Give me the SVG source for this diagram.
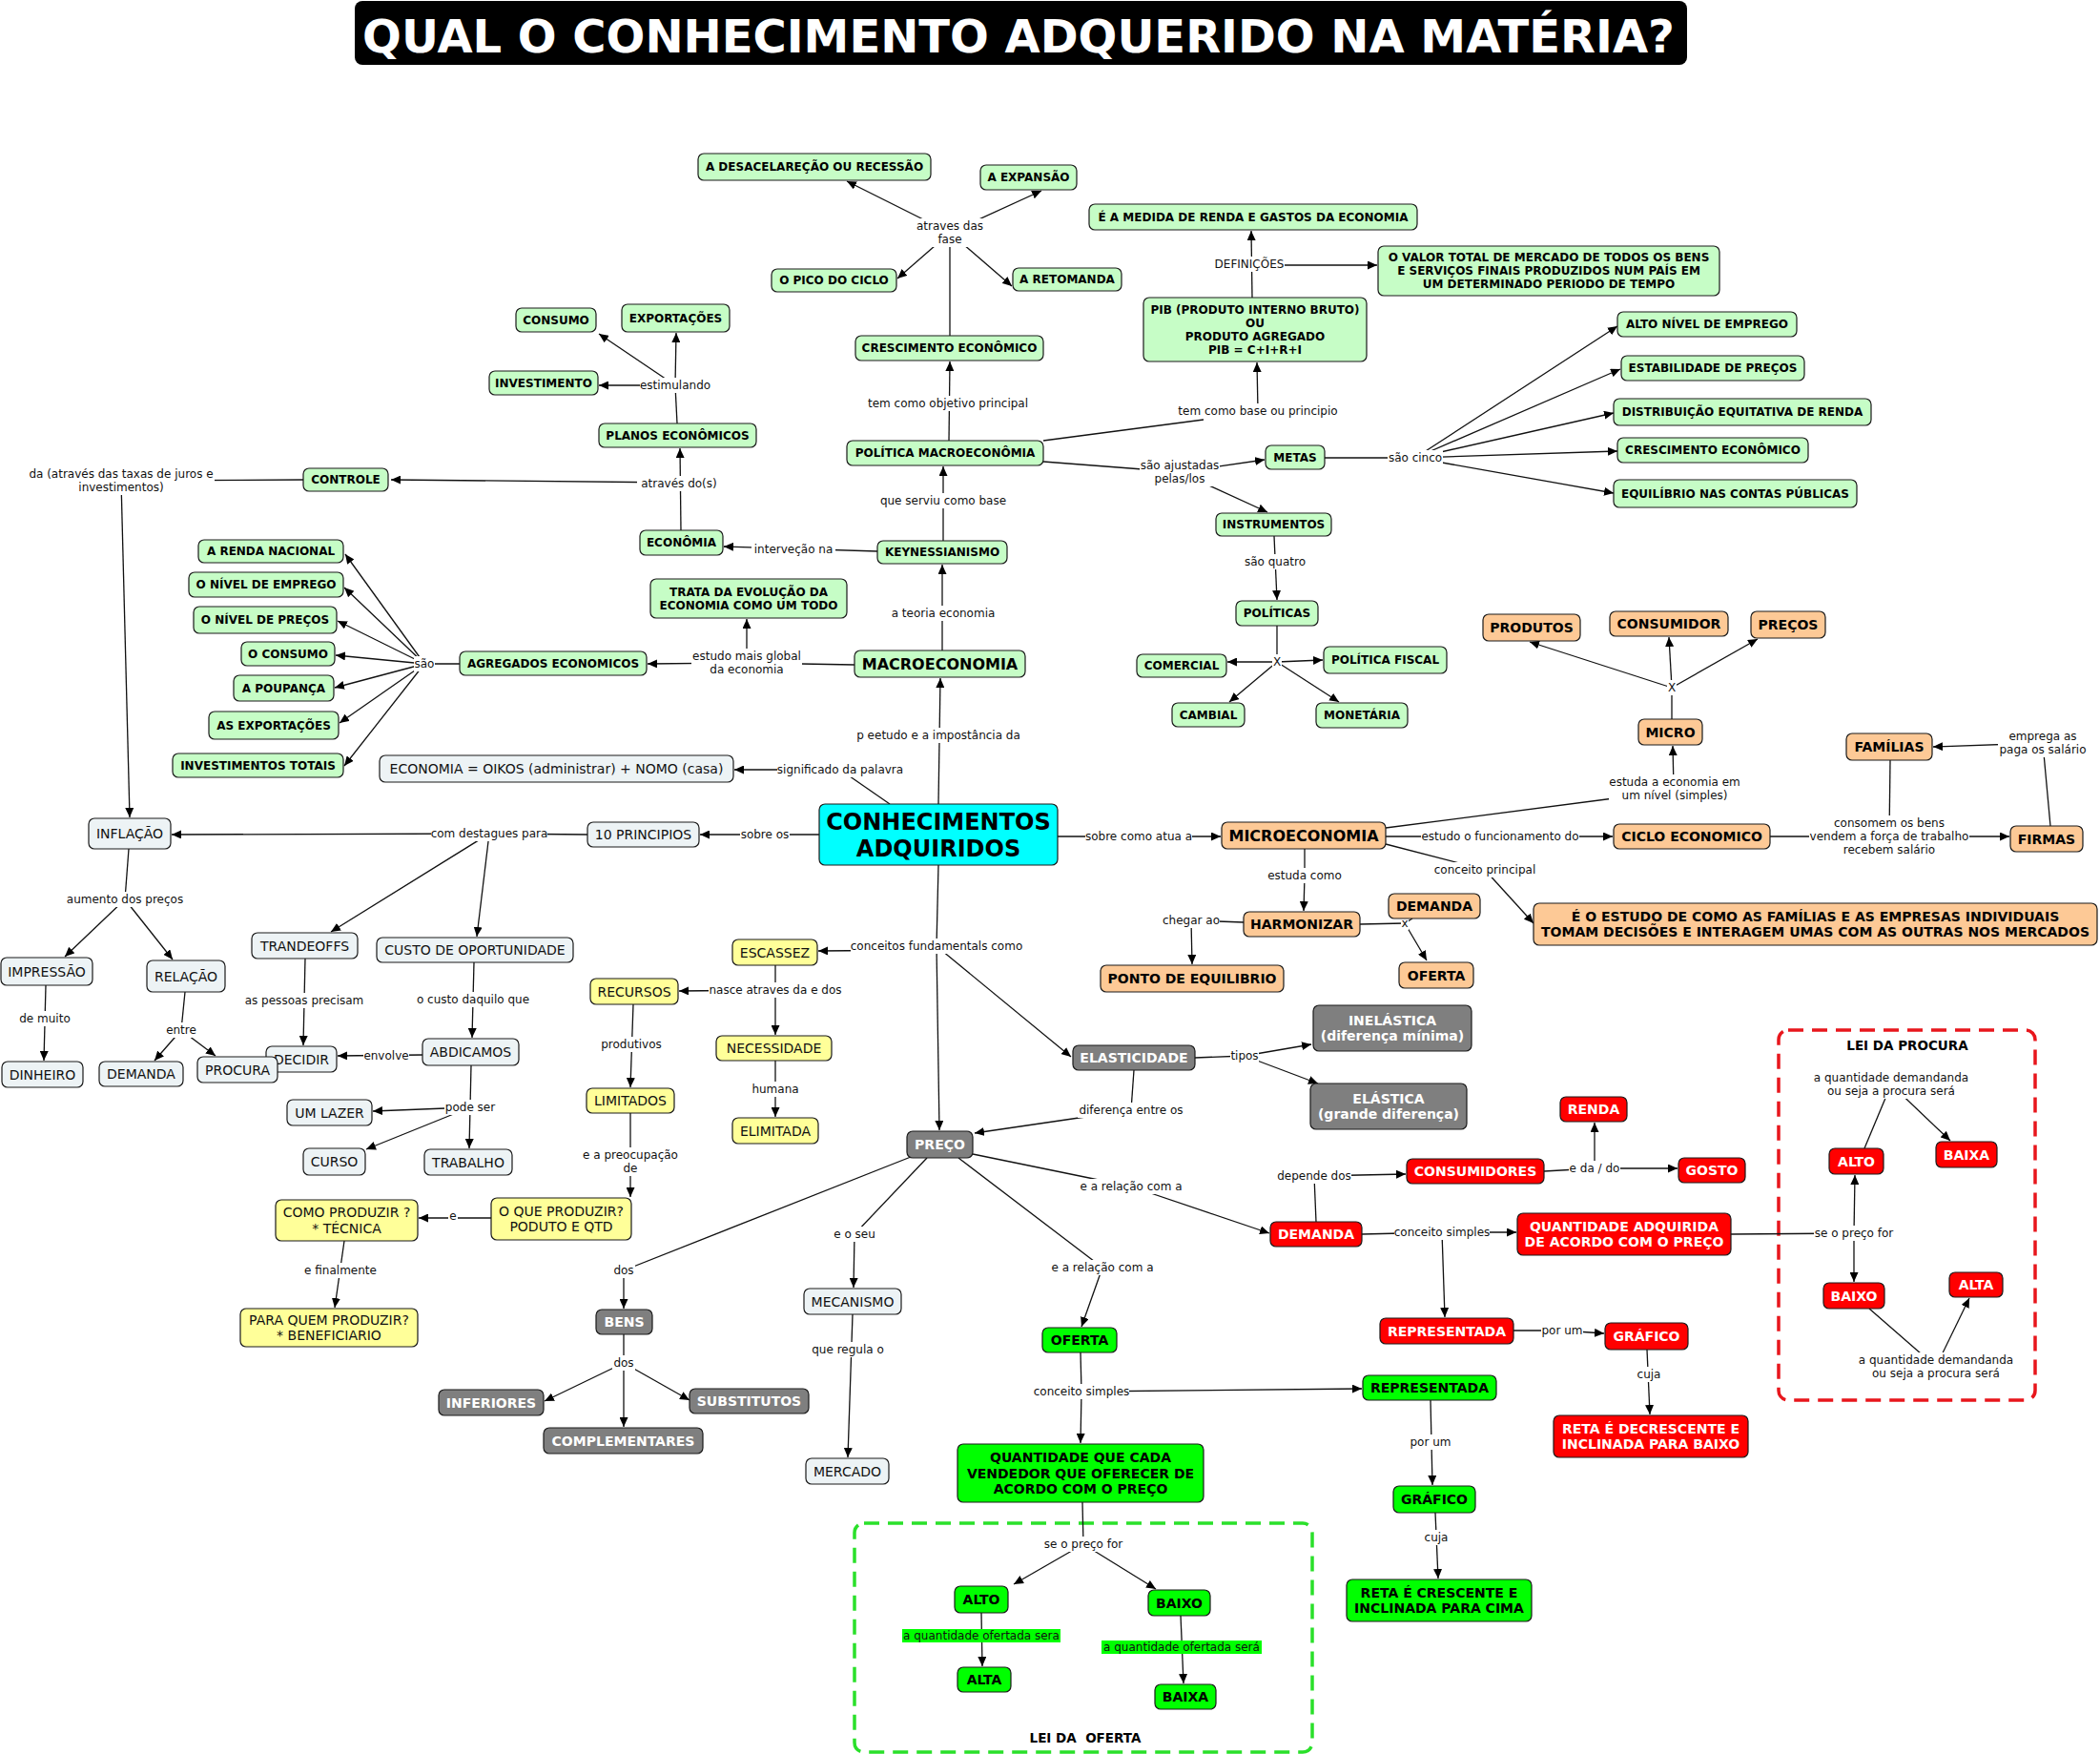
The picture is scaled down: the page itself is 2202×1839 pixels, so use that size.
<svg xmlns="http://www.w3.org/2000/svg" width="2202" height="1839" viewBox="0 0 2202 1839">
<defs>
<marker id="ah" viewBox="0 0 10 9" refX="10" refY="4.5" markerWidth="10" markerHeight="9" markerUnits="userSpaceOnUse" orient="auto"><path d="M0,0 L10,4.5 L0,9 z" fill="#000"/></marker>
<style>
.c{fill:none;stroke:#111;stroke-width:1.3}
.ca{fill:none;stroke:#111;stroke-width:1.3;marker-end:url(#ah)}
.lb rect{fill:#fff}
.lb text{font-family:"DejaVu Sans",sans-serif;font-size:12px;fill:#111;text-anchor:middle}
.n{stroke:#1a1a1a;stroke-width:1.2;rx:6px;ry:6px}
.fg{fill:#c6fdc6}.fo{fill:#fdc996}.fy{fill:#ffff99}.fb{fill:#edf3f5}.fgr{fill:#7f7f7f}.fr{fill:#ff0000}.fG{fill:#00ff00}.fc{fill:#00ffff}
.t{font-family:"DejaVu Sans",sans-serif;text-anchor:middle}
.b12{font-size:12px;font-weight:bold;fill:#000}
.b14{font-size:14px;font-weight:bold;fill:#000}
.w14{font-size:14px;font-weight:bold;fill:#fff}
.r14{font-size:14px;fill:#111}
.b16{font-size:16px;font-weight:bold;fill:#000}
.b24{font-size:24px;font-weight:bold;fill:#000}
.box{fill:none;stroke-width:3.5;stroke-dasharray:16 9;rx:10px;ry:10px}
</style>
</defs>
<rect width="2202" height="1839" fill="#fff"/>

<g id="title">
<rect x="372" y="1" width="1397" height="67" rx="8" fill="#000"/>
<text class="t" x="1068" y="55" font-size="48" font-weight="bold" fill="#fff">QUAL O CONHECIMENTO ADQUERIDO NA MATÉRIA?</text>
</g>

<g id="lei-procura-box">
<rect class="box" x="1865" y="1080" width="269" height="388" stroke="#e8161c"/>
<text class="t" x="2000" y="1101" font-size="13.5" font-weight="bold">LEI DA PROCURA</text>
</g>
<g id="lei-oferta-box">
<rect class="box" x="896" y="1597" width="480" height="240" stroke="#2ae02a"/>
<text class="t" x="1138" y="1827" font-size="13.5" font-weight="bold" xml:space="preserve">LEI DA  OFERTA</text>
</g>

<g id="connectors">
<path class="c" d="M996 352 L996 244"/>
<path class="ca" d="M996 244 L888 190"/>
<path class="ca" d="M996 244 L1092 200"/>
<path class="ca" d="M996 244 L941 292"/>
<path class="ca" d="M996 244 L1061 300"/>
<path class="c" d="M710 444 L708 404"/>
<path class="ca" d="M708 404 L709 349"/>
<path class="ca" d="M708 404 L628 350"/>
<path class="ca" d="M708 404 L628 404"/>
<path class="ca" d="M995 462 L996 379"/>
<path class="ca" d="M989 567 L989 489"/>
<path class="ca" d="M920 578 L759 573"/>
<path class="ca" d="M714 556 L713 470"/>
<path class="ca" d="M712 506 L410 503"/>
<path class="c" d="M318 503 L126 504"/>
<path class="ca" d="M127 504 L136 857"/>
<path class="c" d="M482 696 L445 696"/>
<path class="ca" d="M445 696 L362 581"/>
<path class="ca" d="M445 696 L361 616"/>
<path class="ca" d="M445 696 L354 651"/>
<path class="ca" d="M445 696 L352 687"/>
<path class="ca" d="M445 696 L351 721"/>
<path class="ca" d="M445 696 L356 758"/>
<path class="ca" d="M445 696 L361 803"/>
<path class="c" d="M896 697 L783 695"/>
<path class="ca" d="M783 695 L679 696"/>
<path class="ca" d="M783 695 L783 649"/>
<path class="ca" d="M988 682 L988 592"/>
<path class="ca" d="M984 843 L986 711"/>
<path class="c" d="M933 843 L881 807"/>
<path class="ca" d="M881 807 L770 807"/>
<path class="ca" d="M859 875 L734 875"/>
<path class="c" d="M616 875 L513 874"/>
<path class="ca" d="M513 874 L180 875"/>
<path class="ca" d="M513 874 L347 977"/>
<path class="ca" d="M513 874 L500 982"/>
<path class="c" d="M135 890 L131 943"/>
<path class="ca" d="M131 943 L68 1003"/>
<path class="ca" d="M131 943 L181 1006"/>
<path class="ca" d="M48 1033 L46 1112"/>
<path class="c" d="M194 1040 L190 1080"/>
<path class="ca" d="M190 1080 L162 1112"/>
<path class="ca" d="M190 1080 L226 1107"/>
<path class="ca" d="M320 1005 L318 1096"/>
<path class="ca" d="M497 1009 L495 1088"/>
<path class="ca" d="M443 1106 L354 1107"/>
<path class="c" d="M494 1117 L493 1161"/>
<path class="ca" d="M493 1161 L391 1165"/>
<path class="ca" d="M493 1161 L384 1205"/>
<path class="ca" d="M493 1161 L492 1204"/>
<path class="ca" d="M664 1053 L661 1140"/>
<path class="ca" d="M661 1167 L661 1255"/>
<path class="ca" d="M515 1277 L439 1277"/>
<path class="ca" d="M361 1301 L351 1371"/>
<path class="c" d="M955 1213 L654 1332"/>
<path class="ca" d="M654 1332 L654 1372"/>
<path class="c" d="M654 1399 L654 1429"/>
<path class="ca" d="M654 1429 L571 1469"/>
<path class="ca" d="M654 1429 L654 1496"/>
<path class="ca" d="M654 1429 L723 1468"/>
<path class="c" d="M984 907 L982 992"/>
<path class="ca" d="M982 996 L858 997"/>
<path class="ca" d="M982 992 L985 1185"/>
<path class="ca" d="M982 992 L1123 1108"/>
<path class="ca" d="M813 1012 L813 1085"/>
<path class="ca" d="M813 1038 L712 1039"/>
<path class="ca" d="M813 1112 L813 1171"/>
<path class="c" d="M1253 1109 L1305 1107"/>
<path class="ca" d="M1305 1107 L1375 1095"/>
<path class="ca" d="M1305 1107 L1382 1136"/>
<path class="c" d="M1189 1122 L1186 1164"/>
<path class="ca" d="M1186 1164 L1022 1188"/>
<path class="c" d="M1020 1210 L1186 1244"/>
<path class="ca" d="M1186 1244 L1331 1293"/>
<path class="c" d="M1380 1281 L1378 1233"/>
<path class="ca" d="M1378 1233 L1474 1231"/>
<path class="c" d="M972 1214 L896 1294"/>
<path class="ca" d="M896 1294 L895 1350"/>
<path class="c" d="M1005 1214 L1156 1329"/>
<path class="ca" d="M1156 1329 L1134 1391"/>
<path class="ca" d="M894 1378 L889 1528"/>
<path class="c" d="M1133 1418 L1134 1459"/>
<path class="ca" d="M1134 1459 L1133 1513"/>
<path class="ca" d="M1134 1459 L1428 1456"/>
<path class="c" d="M1135 1575 L1136 1619"/>
<path class="ca" d="M1136 1619 L1063 1661"/>
<path class="ca" d="M1136 1619 L1212 1666"/>
<path class="ca" d="M1029 1691 L1030 1747"/>
<path class="ca" d="M1238 1694 L1241 1765"/>
<path class="ca" d="M1500 1468 L1502 1557"/>
<path class="ca" d="M1505 1586 L1508 1655"/>
<path class="ca" d="M1313 312 L1312 242"/>
<path class="ca" d="M1310 278 L1444 278"/>
<path class="c" d="M1094 462 L1262 440"/>
<path class="ca" d="M1319 431 L1318 380"/>
<path class="c" d="M1094 484 L1237 495"/>
<path class="ca" d="M1237 495 L1326 482"/>
<path class="ca" d="M1237 495 L1329 537"/>
<path class="c" d="M1389 480 L1484 480"/>
<path class="ca" d="M1484 480 L1696 342"/>
<path class="ca" d="M1484 480 L1699 387"/>
<path class="ca" d="M1484 480 L1692 433"/>
<path class="ca" d="M1484 480 L1696 473"/>
<path class="ca" d="M1484 480 L1692 517"/>
<path class="ca" d="M1336 562 L1339 629"/>
<path class="c" d="M1339 656 L1339 694"/>
<path class="ca" d="M1339 694 L1287 694"/>
<path class="ca" d="M1339 694 L1387 692"/>
<path class="ca" d="M1339 694 L1289 736"/>
<path class="ca" d="M1339 694 L1404 736"/>
<path class="ca" d="M1109 877 L1280 877"/>
<path class="c" d="M1753 754 L1753 721"/>
<path class="ca" d="M1753 721 L1604 673"/>
<path class="ca" d="M1753 721 L1750 668"/>
<path class="ca" d="M1753 721 L1843 670"/>
<path class="c" d="M1453 868 L1700 836"/>
<path class="ca" d="M1755 827 L1754 782"/>
<path class="c" d="M2150 866 L2142 779"/>
<path class="ca" d="M2142 779 L2027 783"/>
<path class="ca" d="M1453 877 L1691 877"/>
<path class="c" d="M1856 877 L1981 877"/>
<path class="ca" d="M1981 877 L2107 877"/>
<path class="c" d="M1982 797 L1981 877"/>
<path class="c" d="M1453 885 L1557 912"/>
<path class="ca" d="M1557 912 L1608 968"/>
<path class="c" d="M1368 890 L1368 918"/>
<path class="ca" d="M1368 918 L1367 955"/>
<path class="c" d="M1304 967 L1249 965"/>
<path class="ca" d="M1249 965 L1250 1011"/>
<path class="c" d="M1426 969 L1473 968"/>
<path class="c" d="M1473 968 L1481 963"/>
<path class="ca" d="M1473 968 L1496 1007"/>
<path class="c" d="M1619 1228 L1672 1225"/>
<path class="ca" d="M1672 1225 L1759 1225"/>
<path class="ca" d="M1672 1225 L1672 1177"/>
<path class="c" d="M1428 1294 L1512 1292"/>
<path class="ca" d="M1512 1292 L1590 1292"/>
<path class="ca" d="M1512 1292 L1515 1381"/>
<path class="c" d="M1587 1395 L1638 1395"/>
<path class="ca" d="M1638 1395 L1682 1398"/>
<path class="ca" d="M1727 1415 L1730 1483"/>
<path class="c" d="M1815 1294 L1944 1293"/>
<path class="ca" d="M1944 1293 L1945 1232"/>
<path class="ca" d="M1944 1293 L1944 1344"/>
<path class="c" d="M1955 1204 L1983 1137"/>
<path class="ca" d="M1983 1137 L2045 1196"/>
<path class="c" d="M1960 1372 L2030 1433"/>
<path class="ca" d="M2030 1433 L2065 1361"/>

<g class="lb">
<rect x="958" y="229" width="76" height="30"/><text x="996" y="241.3">atraves das<tspan x="996" dy="14">fase</tspan></text>
<rect x="671" y="396" width="74" height="16"/><text x="708" y="408.3">estimulando</text>
<rect x="903" y="415" width="181" height="16"/><text x="994" y="427.3">tem como objetivo principal</text>
<rect x="922" y="517" width="134" height="16"/><text x="989" y="529.3">que serviu como base</text>
<rect x="788" y="568" width="88" height="16"/><text x="832" y="580.3">interveção na</text>
<rect x="668" y="499" width="88" height="16"/><text x="712" y="511.3">através do(s)</text>
<rect x="29" y="489" width="196" height="30"/><text x="127" y="501.3">da (através das taxas de juros e<tspan x="127" dy="14">investimentos)</tspan></text>
<rect x="434" y="688" width="22" height="16"/><text x="445" y="700.3">são</text>
<rect x="725" y="680" width="116" height="30"/><text x="783" y="692.3">estudo mais global<tspan x="783" dy="14">da economia</tspan></text>
<rect x="934" y="635" width="110" height="16"/><text x="989" y="647.3">a teoria economia</text>
<rect x="898" y="763" width="172" height="16"/><text x="984" y="775.3">p eetudo e a impostância da</text>
<rect x="815" y="799" width="132" height="16"/><text x="881" y="811.3">significado da palavra</text>
<rect x="776" y="867" width="52" height="16"/><text x="802" y="879.3">sobre os</text>
<rect x="452" y="866" width="122" height="16"/><text x="513" y="878.3">com destagues para</text>
<rect x="70" y="935" width="122" height="16"/><text x="131" y="947.3">aumento dos preços</text>
<rect x="20" y="1060" width="54" height="16"/><text x="47" y="1072.3">de muito</text>
<rect x="174" y="1072" width="32" height="16"/><text x="190" y="1084.3">entre</text>
<rect x="256" y="1041" width="126" height="16"/><text x="319" y="1053.3">as pessoas precisam</text>
<rect x="436" y="1040" width="120" height="16"/><text x="496" y="1052.3">o custo daquilo que</text>
<rect x="381" y="1099" width="48" height="16"/><text x="405" y="1111.3">envolve</text>
<rect x="466" y="1153" width="54" height="16"/><text x="493" y="1165.3">pode ser</text>
<rect x="630" y="1087" width="64" height="16"/><text x="662" y="1099.3">produtivos</text>
<rect x="611" y="1203" width="100" height="30"/><text x="661" y="1215.3">e a preocupação<tspan x="661" dy="14">de</tspan></text>
<rect x="470" y="1267" width="10" height="16"/><text x="475" y="1279.3">e</text>
<rect x="319" y="1324" width="76" height="16"/><text x="357" y="1336.3">e finalmente</text>
<rect x="642" y="1324" width="24" height="16"/><text x="654" y="1336.3">dos</text>
<rect x="642" y="1421" width="24" height="16"/><text x="654" y="1433.3">dos</text>
<rect x="892" y="984" width="180" height="16"/><text x="982" y="996.3">conceitos fundamentals como</text>
<rect x="743" y="1030" width="140" height="16"/><text x="813" y="1042.3">nasce atraves da e dos</text>
<rect x="789" y="1134" width="48" height="16"/><text x="813" y="1146.3">humana</text>
<rect x="1290" y="1099" width="30" height="16"/><text x="1305" y="1111.3">tipos</text>
<rect x="1130" y="1156" width="112" height="16"/><text x="1186" y="1168.3">diferença entre os</text>
<rect x="1132" y="1236" width="108" height="16"/><text x="1186" y="1248.3">e a relação com a</text>
<rect x="1339" y="1225" width="78" height="16"/><text x="1378" y="1237.3">depende dos</text>
<rect x="874" y="1286" width="44" height="16"/><text x="896" y="1298.3">e o seu</text>
<rect x="1102" y="1321" width="108" height="16"/><text x="1156" y="1333.3">e a relação com a</text>
<rect x="851" y="1407" width="76" height="16"/><text x="889" y="1419.3">que regula o</text>
<rect x="1084" y="1451" width="100" height="16"/><text x="1134" y="1463.3">conceito simples</text>
<rect x="1094" y="1611" width="84" height="16"/><text x="1136" y="1623.3">se o preço for</text>
<rect x="946" y="1708" width="166" height="14" style="fill:#00ff00"/><text x="1029" y="1719.3">a quantidade ofertada sera</text>
<rect x="1155" y="1720" width="168" height="14" style="fill:#00ff00"/><text x="1239" y="1731.3">a quantidade ofertada será</text>
<rect x="1273" y="269" width="74" height="16"/><text x="1310" y="281.3">DEFINIÇÕES</text>
<rect x="1234" y="423" width="170" height="16"/><text x="1319" y="435.3">tem como base ou principio</text>
<rect x="1455" y="472" width="58" height="16"/><text x="1484" y="484.3">são cinco</text>
<rect x="1195" y="480" width="84" height="30"/><text x="1237" y="492.3">são ajustadas<tspan x="1237" dy="14">pelas/los</tspan></text>
<rect x="1305" y="581" width="64" height="16"/><text x="1337" y="593.3">são quatro</text>
<rect x="1334" y="686" width="10" height="16"/><text x="1339" y="698.3">X</text>
<rect x="1138" y="869" width="112" height="16"/><text x="1194" y="881.3">sobre como atua a</text>
<rect x="1748" y="713" width="10" height="16"/><text x="1753" y="725.3">X</text>
<rect x="1687" y="812" width="138" height="30"/><text x="1756" y="824.3">estuda a economia em<tspan x="1756" dy="14">um nível (simples)</tspan></text>
<rect x="2095" y="764" width="94" height="30"/><text x="2142" y="776.3">emprega as<tspan x="2142" dy="14">paga os salário</tspan></text>
<rect x="1490" y="869" width="166" height="16"/><text x="1573" y="881.3">estudo o funcionamento do</text>
<rect x="1897" y="855" width="168" height="44"/><text x="1981" y="867.3">consomem os bens<tspan x="1981" dy="14">vendem a força de trabalho</tspan><tspan x="1981" dy="14">recebem salário</tspan></text>
<rect x="1504" y="904" width="106" height="16"/><text x="1557" y="916.3">conceito principal</text>
<rect x="1332" y="910" width="72" height="16"/><text x="1368" y="922.3">estuda como</text>
<rect x="1219" y="957" width="60" height="16"/><text x="1249" y="969.3">chegar ao</text>
<rect x="1469" y="961" width="8" height="14"/><text x="1473" y="972.3">x</text>
<rect x="1645" y="1217" width="54" height="16"/><text x="1672" y="1229.3">e da / do</text>
<rect x="1462" y="1284" width="100" height="16"/><text x="1512" y="1296.3">conceito simples</text>
<rect x="1616" y="1387" width="44" height="16"/><text x="1638" y="1399.3">por um</text>
<rect x="1715" y="1433" width="28" height="16"/><text x="1729" y="1445.3">cuja</text>
<rect x="1902" y="1122" width="162" height="30"/><text x="1983" y="1134.3">a quantidade demandanda<tspan x="1983" dy="14">ou seja a procura será</tspan></text>
<rect x="1902" y="1285" width="84" height="16"/><text x="1944" y="1297.3">se o preço for</text>
<rect x="1949" y="1418" width="162" height="30"/><text x="2030" y="1430.3">a quantidade demandanda<tspan x="2030" dy="14">ou seja a procura será</tspan></text>
<rect x="1478" y="1504" width="44" height="16"/><text x="1500" y="1516.3">por um</text>
<rect x="1492" y="1604" width="28" height="16"/><text x="1506" y="1616.3">cuja</text>
</g>
</g>

<g id="nodes">
<g id="n-desacel"><rect class="n fg" x="732" y="161" width="244" height="28"/><text class="t b12" x="854" y="179.3">A DESACELAREÇÃO OU RECESSÃO</text></g>
<g id="n-expansao"><rect class="n fg" x="1028" y="173" width="101" height="26"/><text class="t b12" x="1078.5" y="190.3">A EXPANSÃO</text></g>
<g id="n-pico"><rect class="n fg" x="809" y="282" width="131" height="24"/><text class="t b12" x="874.5" y="298.3">O PICO DO CICLO</text></g>
<g id="n-retomanda"><rect class="n fg" x="1062" y="281" width="114" height="24"/><text class="t b12" x="1119" y="297.3">A RETOMANDA</text></g>
<g id="n-cresc1"><rect class="n fg" x="897" y="352" width="197" height="26"/><text class="t b12" x="995.5" y="369.3">CRESCIMENTO ECONÔMICO</text></g>
<g id="n-consumo"><rect class="n fg" x="541" y="323" width="84" height="25"/><text class="t b12" x="583" y="339.8">CONSUMO</text></g>
<g id="n-exportacoes"><rect class="n fg" x="652" y="319" width="113" height="29"/><text class="t b12" x="708.5" y="337.8">EXPORTAÇÕES</text></g>
<g id="n-investimento"><rect class="n fg" x="513" y="389" width="114" height="25"/><text class="t b12" x="570" y="405.8">INVESTIMENTO</text></g>
<g id="n-planos"><rect class="n fg" x="628" y="444" width="165" height="25"/><text class="t b12" x="710.5" y="460.8">PLANOS ECONÔMICOS</text></g>
<g id="n-politica"><rect class="n fg" x="888" y="462" width="206" height="26"/><text class="t b12" x="991" y="479.3">POLÍTICA MACROECONÔMIA</text></g>
<g id="n-keynes"><rect class="n fg" x="920" y="567" width="136" height="24"/><text class="t b12" x="988" y="583.3">KEYNESSIANISMO</text></g>
<g id="n-economia"><rect class="n fg" x="671" y="556" width="87" height="26"/><text class="t b12" x="714.5" y="573.3">ECONÔMIA</text></g>
<g id="n-controle"><rect class="n fg" x="318" y="491" width="89" height="24"/><text class="t b12" x="362.5" y="507.3">CONTROLE</text></g>
<g id="n-renda-nac"><rect class="n fg" x="208" y="566" width="152" height="24"/><text class="t b12" x="284" y="582.3">A RENDA NACIONAL</text></g>
<g id="n-nivel-emp"><rect class="n fg" x="198" y="600" width="162" height="26"/><text class="t b12" x="279" y="617.3">O NÍVEL DE EMPREGO</text></g>
<g id="n-nivel-pre"><rect class="n fg" x="203" y="636" width="150" height="28"/><text class="t b12" x="278" y="654.3">O NÍVEL DE PREÇOS</text></g>
<g id="n-o-consumo"><rect class="n fg" x="253" y="673" width="98" height="25"/><text class="t b12" x="302" y="689.8">O CONSUMO</text></g>
<g id="n-poupanca"><rect class="n fg" x="245" y="708" width="105" height="27"/><text class="t b12" x="297.5" y="725.8">A POUPANÇA</text></g>
<g id="n-as-export"><rect class="n fg" x="219" y="746" width="136" height="29"/><text class="t b12" x="287" y="764.8">AS EXPORTAÇÕES</text></g>
<g id="n-invtot"><rect class="n fg" x="181" y="790" width="179" height="25"/><text class="t b12" x="270.5" y="806.8">INVESTIMENTOS TOTAIS</text></g>
<g id="n-agregados"><rect class="n fg" x="482" y="683" width="196" height="25"/><text class="t b12" x="580" y="699.8">AGREGADOS ECONOMICOS</text></g>
<g id="n-trata"><rect class="n fg" x="682" y="607" width="206" height="41"/><text class="t b12" x="785" y="625">TRATA DA EVOLUÇÃO DA<tspan x="785" dy="13.5">ECONOMIA COMO UM TODO</tspan></text></g>
<g id="n-macro"><rect class="n fg" x="896" y="682" width="179" height="28"/><text class="t b16" x="985.5" y="701.8">MACROECONOMIA</text></g>
<g id="n-medida"><rect class="n fg" x="1142" y="214" width="344" height="27"/><text class="t b12" x="1314" y="231.8">É A MEDIDA DE RENDA E GASTOS DA ECONOMIA</text></g>
<g id="n-valor"><rect class="n fg" x="1445" y="258" width="358" height="52"/><text class="t b12" x="1624" y="274.3">O VALOR TOTAL DE MERCADO DE TODOS OS BENS<tspan x="1624" dy="14">E SERVIÇOS FINAIS PRODUZIDOS NUM PAÍS EM</tspan><tspan x="1624" dy="14">UM DETERMINADO PERIODO DE TEMPO</tspan></text></g>
<g id="n-pib"><rect class="n fg" x="1199" y="312" width="234" height="67"/><text class="t b12" x="1316" y="328.8">PIB (PRODUTO INTERNO BRUTO)<tspan x="1316" dy="14">OU</tspan><tspan x="1316" dy="14">PRODUTO AGREGADO</tspan><tspan x="1316" dy="14">PIB = C+I+R+I</tspan></text></g>
<g id="n-alto-nivel"><rect class="n fg" x="1696" y="327" width="188" height="26"/><text class="t b12" x="1790" y="344.3">ALTO NÍVEL DE EMPREGO</text></g>
<g id="n-estab"><rect class="n fg" x="1700" y="373" width="192" height="26"/><text class="t b12" x="1796" y="390.3">ESTABILIDADE DE PREÇOS</text></g>
<g id="n-distr"><rect class="n fg" x="1692" y="418" width="270" height="28"/><text class="t b12" x="1827" y="436.3">DISTRIBUIÇÃO EQUITATIVA DE RENDA</text></g>
<g id="n-cresc2"><rect class="n fg" x="1696" y="459" width="200" height="26"/><text class="t b12" x="1796" y="476.3">CRESCIMENTO ECONÔMICO</text></g>
<g id="n-equil"><rect class="n fg" x="1692" y="503" width="255" height="29"/><text class="t b12" x="1819.5" y="521.8">EQUILÍBRIO NAS CONTAS PÚBLICAS</text></g>
<g id="n-metas"><rect class="n fg" x="1327" y="467" width="62" height="25"/><text class="t b12" x="1358" y="483.8">METAS</text></g>
<g id="n-instrumentos"><rect class="n fg" x="1275" y="538" width="121" height="24"/><text class="t b12" x="1335.5" y="554.3">INSTRUMENTOS</text></g>
<g id="n-politicas"><rect class="n fg" x="1296" y="630" width="86" height="26"/><text class="t b12" x="1339" y="647.3">POLÍTICAS</text></g>
<g id="n-comercial"><rect class="n fg" x="1192" y="686" width="94" height="24"/><text class="t b12" x="1239" y="702.3">COMERCIAL</text></g>
<g id="n-fiscal"><rect class="n fg" x="1388" y="678" width="129" height="28"/><text class="t b12" x="1452.5" y="696.3">POLÍTICA FISCAL</text></g>
<g id="n-cambial"><rect class="n fg" x="1229" y="737" width="76" height="25"/><text class="t b12" x="1267" y="753.8">CAMBIAL</text></g>
<g id="n-monetaria"><rect class="n fg" x="1380" y="737" width="96" height="26"/><text class="t b12" x="1428" y="754.3">MONETÁRIA</text></g>

<g id="n-oikos"><rect class="n fb" x="398" y="792" width="371" height="28"/><text class="t r14" x="583.5" y="811">ECONOMIA = OIKOS (administrar) + NOMO (casa)</text></g>
<g id="n-10princ"><rect class="n fb" x="616" y="862" width="117" height="26"/><text class="t r14" x="674.5" y="880">10 PRINCIPIOS</text></g>
<g id="n-inflacao"><rect class="n fb" x="93" y="858" width="86" height="32"/><text class="t r14" x="136" y="879">INFLAÇÃO</text></g>
<g id="n-impressao"><rect class="n fb" x="1" y="1004" width="96" height="29"/><text class="t r14" x="49" y="1023.5">IMPRESSÃO</text></g>
<g id="n-relacao"><rect class="n fb" x="154" y="1007" width="82" height="33"/><text class="t r14" x="195" y="1028.5">RELAÇÃO</text></g>
<g id="n-dinheiro"><rect class="n fb" x="2" y="1113" width="85" height="27"/><text class="t r14" x="44.5" y="1131.5">DINHEIRO</text></g>
<g id="n-demanda-b"><rect class="n fb" x="104" y="1113" width="88" height="26"/><text class="t r14" x="148" y="1131">DEMANDA</text></g>
<g id="n-trandeoffs"><rect class="n fb" x="264" y="978" width="111" height="27"/><text class="t r14" x="319.5" y="996.5">TRANDEOFFS</text></g>
<g id="n-custo"><rect class="n fb" x="395" y="983" width="206" height="26"/><text class="t r14" x="498" y="1001">CUSTO DE OPORTUNIDADE</text></g>
<g id="n-decidir"><rect class="n fb" x="279" y="1097" width="74" height="27"/><text class="t r14" x="316" y="1115.5">DECIDIR</text></g>
<g id="n-procura"><rect class="n fb" x="207" y="1108" width="84" height="27"/><text class="t r14" x="249" y="1126.5">PROCURA</text></g>
<g id="n-abdicamos"><rect class="n fb" x="443" y="1089" width="101" height="28"/><text class="t r14" x="493.5" y="1108">ABDICAMOS</text></g>
<g id="n-lazer"><rect class="n fb" x="301" y="1153" width="89" height="27"/><text class="t r14" x="345.5" y="1171.5">UM LAZER</text></g>
<g id="n-curso"><rect class="n fb" x="318" y="1204" width="65" height="28"/><text class="t r14" x="350.5" y="1223">CURSO</text></g>
<g id="n-trabalho"><rect class="n fb" x="445" y="1205" width="92" height="27"/><text class="t r14" x="491" y="1223.5">TRABALHO</text></g>
<g id="n-mecanismo"><rect class="n fb" x="843" y="1351" width="102" height="27"/><text class="t r14" x="894" y="1369.5">MECANISMO</text></g>
<g id="n-mercado"><rect class="n fb" x="845" y="1529" width="87" height="27"/><text class="t r14" x="888.5" y="1547.5">MERCADO</text></g>

<g id="n-escassez"><rect class="n fy" x="768" y="985" width="89" height="27"/><text class="t r14" x="812.5" y="1003.5">ESCASSEZ</text></g>
<g id="n-recursos"><rect class="n fy" x="619" y="1026" width="92" height="27"/><text class="t r14" x="665" y="1044.5">RECURSOS</text></g>
<g id="n-necessidade"><rect class="n fy" x="751" y="1086" width="121" height="26"/><text class="t r14" x="811.5" y="1104">NECESSIDADE</text></g>
<g id="n-elimitada"><rect class="n fy" x="768" y="1172" width="90" height="27"/><text class="t r14" x="813" y="1190.5">ELIMITADA</text></g>
<g id="n-limitados"><rect class="n fy" x="615" y="1141" width="92" height="26"/><text class="t r14" x="661" y="1159">LIMITADOS</text></g>
<g id="n-oque"><rect class="n fy" x="515" y="1256" width="147" height="44"/><text class="t r14" x="588.5" y="1274.8">O QUE PRODUZIR?<tspan x="588.5" dy="16.5">PODUTO E QTD</tspan></text></g>
<g id="n-como"><rect class="n fy" x="289" y="1258" width="149" height="43"/><text class="t r14" x="363.5" y="1276.3">COMO PRODUZIR ?<tspan x="363.5" dy="16.5">* TÉCNICA</tspan></text></g>
<g id="n-paraquem"><rect class="n fy" x="252" y="1372" width="186" height="40"/><text class="t r14" x="345" y="1388.8">PARA QUEM PRODUZIR?<tspan x="345" dy="16.5">* BENEFICIARIO</tspan></text></g>

<g id="n-preco"><rect class="n fgr" x="951" y="1186" width="69" height="28"/><text class="t w14" x="985.5" y="1205">PREÇO</text></g>
<g id="n-elasticidade"><rect class="n fgr" x="1125" y="1096" width="128" height="26"/><text class="t w14" x="1189" y="1114">ELASTICIDADE</text></g>
<g id="n-inelastica"><rect class="n fgr" x="1377" y="1054" width="166" height="48"/><text class="t w14" x="1460" y="1074.8">INELÁSTICA<tspan x="1460" dy="16.5">(diferença mínima)</tspan></text></g>
<g id="n-elastica"><rect class="n fgr" x="1374" y="1136" width="164" height="48"/><text class="t w14" x="1456" y="1156.8">ELÁSTICA<tspan x="1456" dy="16.5">(grande diferença)</tspan></text></g>
<g id="n-bens"><rect class="n fgr" x="625" y="1373" width="59" height="26"/><text class="t w14" x="654.5" y="1391">BENS</text></g>
<g id="n-inferiores"><rect class="n fgr" x="460" y="1457" width="110" height="27"/><text class="t w14" x="515" y="1475.5">INFERIORES</text></g>
<g id="n-complementares"><rect class="n fgr" x="570" y="1497" width="167" height="27"/><text class="t w14" x="653.5" y="1515.5">COMPLEMENTARES</text></g>
<g id="n-substitutos"><rect class="n fgr" x="723" y="1456" width="125" height="26"/><text class="t w14" x="785.5" y="1474">SUBSTITUTOS</text></g>

<g id="n-conhecimentos"><rect class="n fc" x="859" y="843" width="250" height="64"/><text class="t b24" x="984" y="869.6">CONHECIMENTOS<tspan x="984" dy="28">ADQUIRIDOS</tspan></text></g>

<g id="n-microeconomia"><rect class="n fo" x="1281" y="862" width="172" height="28"/><text class="t b16" x="1367" y="881.8">MICROECONOMIA</text></g>
<g id="n-produtos"><rect class="n fo" x="1555" y="644" width="102" height="28"/><text class="t b14" x="1606" y="663">PRODUTOS</text></g>
<g id="n-consumidor"><rect class="n fo" x="1688" y="641" width="124" height="26"/><text class="t b14" x="1750" y="659">CONSUMIDOR</text></g>
<g id="n-precos"><rect class="n fo" x="1836" y="641" width="78" height="28"/><text class="t b14" x="1875" y="660">PREÇOS</text></g>
<g id="n-micro"><rect class="n fo" x="1718" y="754" width="67" height="27"/><text class="t b14" x="1751.5" y="772.5">MICRO</text></g>
<g id="n-familias"><rect class="n fo" x="1936" y="769" width="90" height="28"/><text class="t b14" x="1981" y="788">FAMÍLIAS</text></g>
<g id="n-ciclo"><rect class="n fo" x="1692" y="864" width="164" height="26"/><text class="t b14" x="1774" y="882">CICLO ECONOMICO</text></g>
<g id="n-firmas"><rect class="n fo" x="2108" y="866" width="76" height="27"/><text class="t b14" x="2146" y="884.5">FIRMAS</text></g>
<g id="n-estudo"><rect class="n fo" x="1608" y="947" width="591" height="44"/><text class="t b14" x="1903.5" y="965.8">É O ESTUDO DE COMO AS FAMÍLIAS E AS EMPRESAS INDIVIDUAIS<tspan x="1903.5" dy="16.5">TOMAM DECISÕES E INTERAGEM UMAS COM AS OUTRAS NOS MERCADOS</tspan></text></g>
<g id="n-harmonizar"><rect class="n fo" x="1304" y="956" width="122" height="26"/><text class="t b14" x="1365" y="974">HARMONIZAR</text></g>
<g id="n-ponto"><rect class="n fo" x="1154" y="1012" width="192" height="28"/><text class="t b14" x="1250" y="1031">PONTO DE EQUILIBRIO</text></g>
<g id="n-demanda-o"><rect class="n fo" x="1456" y="937" width="96" height="26"/><text class="t b14" x="1504" y="955">DEMANDA</text></g>
<g id="n-oferta-o"><rect class="n fo" x="1467" y="1009" width="78" height="27"/><text class="t b14" x="1506" y="1027.5">OFERTA</text></g>

<g id="n-renda"><rect class="n fr" x="1636" y="1150" width="70" height="26"/><text class="t w14" x="1671" y="1168">RENDA</text></g>
<g id="n-consumidores"><rect class="n fr" x="1475" y="1215" width="144" height="26"/><text class="t w14" x="1547" y="1233">CONSUMIDORES</text></g>
<g id="n-gosto"><rect class="n fr" x="1760" y="1214" width="70" height="26"/><text class="t w14" x="1795" y="1232">GOSTO</text></g>
<g id="n-demanda-r"><rect class="n fr" x="1332" y="1281" width="96" height="26"/><text class="t w14" x="1380" y="1299">DEMANDA</text></g>
<g id="n-quant-adq"><rect class="n fr" x="1591" y="1272" width="224" height="44"/><text class="t w14" x="1703" y="1290.8">QUANTIDADE ADQUIRIDA<tspan x="1703" dy="16.5">DE ACORDO COM O PREÇO</tspan></text></g>
<g id="n-repr-r"><rect class="n fr" x="1447" y="1382" width="140" height="27"/><text class="t w14" x="1517" y="1400.5">REPRESENTADA</text></g>
<g id="n-grafico-r"><rect class="n fr" x="1683" y="1387" width="87" height="28"/><text class="t w14" x="1726.5" y="1406">GRÁFICO</text></g>
<g id="n-reta-decr"><rect class="n fr" x="1629" y="1484" width="204" height="44"/><text class="t w14" x="1731" y="1502.8">RETA É DECRESCENTE E<tspan x="1731" dy="16.5">INCLINADA PARA BAIXO</tspan></text></g>
<g id="n-alto-r"><rect class="n fr" x="1918" y="1204" width="57" height="27"/><text class="t w14" x="1946.5" y="1222.5">ALTO</text></g>
<g id="n-baixa-r"><rect class="n fr" x="2030" y="1197" width="64" height="27"/><text class="t w14" x="2062" y="1215.5">BAIXA</text></g>
<g id="n-baixo-r"><rect class="n fr" x="1912" y="1345" width="64" height="27"/><text class="t w14" x="1944" y="1363.5">BAIXO</text></g>
<g id="n-alta-r"><rect class="n fr" x="2044" y="1334" width="56" height="26"/><text class="t w14" x="2072" y="1352">ALTA</text></g>

<g id="n-oferta-g"><rect class="n fG" x="1093" y="1392" width="78" height="26"/><text class="t b14" x="1132" y="1410">OFERTA</text></g>
<g id="n-quant-cada"><rect class="n fG" x="1004" y="1514" width="258" height="61"/><text class="t b14" x="1133" y="1533">QUANTIDADE QUE CADA<tspan x="1133" dy="16.5">VENDEDOR QUE OFERECER DE</tspan><tspan x="1133" dy="16.5">ACORDO COM O PREÇO</tspan></text></g>
<g id="n-repr-g"><rect class="n fG" x="1429" y="1442" width="140" height="26"/><text class="t b14" x="1499" y="1460">REPRESENTADA</text></g>
<g id="n-grafico-g"><rect class="n fG" x="1461" y="1558" width="86" height="28"/><text class="t b14" x="1504" y="1577">GRÁFICO</text></g>
<g id="n-reta-cresc"><rect class="n fG" x="1412" y="1656" width="194" height="44"/><text class="t b14" x="1509" y="1674.8">RETA É CRESCENTE E<tspan x="1509" dy="16.5">INCLINADA PARA CIMA</tspan></text></g>
<g id="n-alto-g"><rect class="n fG" x="1001" y="1663" width="56" height="28"/><text class="t b14" x="1029" y="1682">ALTO</text></g>
<g id="n-baixo-g"><rect class="n fG" x="1204" y="1667" width="65" height="27"/><text class="t b14" x="1236.5" y="1685.5">BAIXO</text></g>
<g id="n-alta-g"><rect class="n fG" x="1004" y="1748" width="56" height="26"/><text class="t b14" x="1032" y="1766">ALTA</text></g>
<g id="n-baixa-g"><rect class="n fG" x="1211" y="1766" width="64" height="26"/><text class="t b14" x="1243" y="1784">BAIXA</text></g>
</g>
</svg>
